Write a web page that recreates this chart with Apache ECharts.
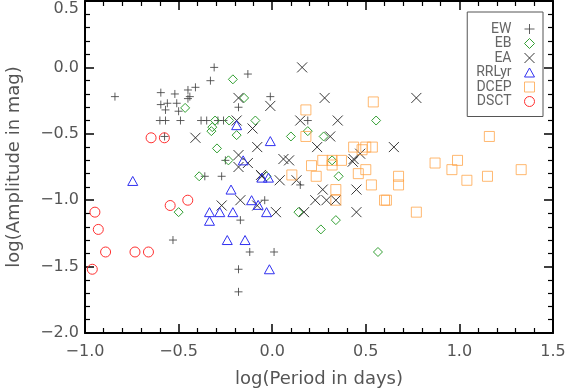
<!DOCTYPE html>
<html><head><meta charset="utf-8">
<script src="https://cdn.jsdelivr.net/npm/echarts@6/dist/echarts.min.js"></script>
<style>html,body{margin:0;padding:0;background:#fff}#c{width:566px;height:390px}</style>
</head><body><div id="c"></div>
<script>
var xTicks = [-1.0, -0.5, 0.0, 0.5, 1.0, 1.5];
var yTicks = [-2.0, -1.5, -1.0, -0.5, 0.0, 0.5];
var seriesNames = ['EW', 'EB', 'EA', 'RRLyr', 'DCEP', 'DSCT'];

var EW = [[-0.84,-0.22],[-0.595,-0.19],[-0.52,-0.20],[-0.45,-0.17],[-0.41,-0.15],[-0.31,0.00],[-0.33,-0.10],
  [-0.595,-0.28],[-0.56,-0.27],[-0.57,-0.32],[-0.51,-0.27],[-0.50,-0.33],[-0.45,-0.235],[-0.44,-0.22],
  [-0.60,-0.40],[-0.57,-0.40],[-0.49,-0.40],[-0.38,-0.40],[-0.35,-0.40],[-0.29,-0.40],[-0.26,-0.40],
  [-0.575,-0.52],[-0.27,-0.82],[-0.36,-0.82],[-0.25,-0.70],[-0.53,-1.30],[-0.18,-1.52],[-0.18,-1.69],
  [-0.12,-1.39],[0.01,-1.39],[-0.17,-1.15],[-0.04,-1.00],[0.15,-0.885],[-0.13,-0.05],[-0.01,-0.22],
  [-0.18,-0.30],[0.19,-0.40]];
var EB = [[-0.465,-0.305],[-0.21,-0.09],[-0.305,-0.40],[-0.23,-0.40],[-0.32,-0.45],[-0.325,-0.48],[-0.19,-0.51],
  [-0.295,-0.61],[-0.234,-0.70],[-0.39,-0.82],[-0.50,-1.09],[-0.15,-0.23],[-0.09,-0.40],[0.10,-0.52],
  [0.19,-0.48],[0.275,-0.52],[0.555,-0.40],[0.32,-0.70],[0.355,-0.82],[-0.03,-0.82],[0.14,-1.09],
  [0.26,-1.22],[0.34,-1.15],[0.565,-1.39]];
var EA = [[-0.41,-0.53],[-0.27,-1.04],[-0.17,-1.00],[-0.08,-1.04],[0.02,-1.09],[0.17,-1.09],[0.23,-1.00],
  [0.29,-1.00],[0.34,-1.00],[0.27,-0.92],[0.45,-0.92],[0.45,-1.09],[0.04,-0.85],[0.13,-0.85],[-0.055,-0.82],
  [-0.18,-0.75],[-0.13,-0.72],[0.43,-0.71],[0.16,0.00],[0.28,-0.23],[-0.01,-0.29],[-0.18,-0.23],[0.15,-0.40],
  [0.35,-0.40],[-0.105,-0.46],[-0.19,-0.40],[0.31,-0.52],[0.24,-0.60],[-0.08,-0.60],[-0.18,-0.66],[0.06,-0.69],
  [0.09,-0.70],[0.435,-0.69],[0.47,-0.65],[0.77,-0.23],[0.65,-0.60],[-0.06,-0.81]];
var RRLyr = [[-0.745,-0.855],[-0.22,-0.92],[-0.335,-1.09],[-0.335,-1.155],[-0.28,-1.09],[-0.21,-1.09],[-0.24,-1.30],
  [-0.11,-1.00],[-0.03,-1.09],[-0.075,-1.035],[-0.145,-1.30],[-0.015,-1.52],[-0.19,-0.435],[-0.01,-0.555],
  [-0.155,-0.70],[-0.055,-0.83],[-0.02,-0.83]];
var DCEP = [[0.18,-0.32],[0.18,-0.52],[0.54,-0.26],[0.435,-0.60],[0.50,-0.60],[0.535,-0.60],[0.27,-0.70],[0.32,-0.70],
  [0.37,-0.70],[0.21,-0.74],[0.32,-0.735],[0.48,-0.62],[0.50,-0.77],[0.46,-0.80],[0.105,-0.81],[0.235,-0.82],
  [0.34,-0.92],[0.34,-1.00],[0.53,-0.885],[0.61,-1.00],[0.60,-1.00],[1.16,-0.52],[0.87,-0.72],[0.99,-0.70],
  [0.96,-0.77],[1.04,-0.85],[1.15,-0.82],[1.33,-0.77],[0.675,-0.82],[0.675,-0.885],[0.77,-1.09]];
var DSCT = [[-0.647,-0.53],[-0.576,-0.53],[-0.947,-1.09],[-0.929,-1.22],[-0.89,-1.39],[-0.733,-1.39],
  [-0.661,-1.39],[-0.961,-1.52],[-0.545,-1.04],[-0.451,-1.00]];

var seriesData = [EW, EB, EA, RRLyr, DCEP, DSCT];
var symbols = [
  'path://M5,0L5,10M0,5L10,5',
  'path://M5,0L10,5L5,10L0,5Z',
  'path://M0,0L10,10M10,0L0,10',
  'path://M5,0L10,9L0,9Z',
  'path://M0,0L10,0L10,10L0,10Z',
  'path://M0,5A5,5,0,1,1,10,5A5,5,0,1,1,0,5Z'
];
var sizes = [8, 9, 10, 10, 10, 10];
var colors = ['#444444', '#33a033', '#222222', '#3030f0', '#ffa040', '#ff3030'];
var opac = [0.85, 1, 0.9, 1, 0.75, 1];

function fmt(v) {
  var s = Math.abs(v).toFixed(1);
  return (v < 0 ? '\u2212' : '') + s;
}
var FONT = 'DejaVu Sans';

var chart = echarts.init(document.getElementById('c'));
var series = seriesNames.map(function (n, i) {
  return {
    name: n, type: 'scatter', data: seriesData[i], symbol: symbols[i], symbolSize: sizes[i],
    symbolKeepAspect: true,
    itemStyle: { color: 'transparent', borderColor: colors[i], borderWidth: 1, opacity: opac[i] },
    emphasis: { disabled: true }, silent: true
  };
});
var tickCommon = { show: true, inside: true, length: 9, lineStyle: { color: '#000', width: 1.5 } };
var minorCommon = { show: true, splitNumber: 5, length: 5, lineStyle: { color: '#000', width: 1.2 } };
var lineCommon = { show: true, onZero: false, lineStyle: { color: '#000', width: 2 } };
chart.setOption({
  animation: false,
  backgroundColor: '#fff',
  grid: { left: 85, right: 13, top: 1, bottom: 57, containLabel: false, outerBoundsMode: 'none' },
  legend: {
    data: seriesNames, orient: 'vertical', align: 'right', right: 23, top: 12,
    itemWidth: 10, itemHeight: 10, itemGap: 0.5, padding: [10, 8, 8, 9],
    borderColor: '#555', borderWidth: 1, backgroundColor: '#fff',
    textStyle: { fontFamily: 'Roboto', fontSize: 14, lineHeight: 14, color: '#666', padding: [0, 8, 0, 0] },
    itemStyle: { borderWidth: 1 }, selectedMode: false
  },
  xAxis: [{
    type: 'value', min: xTicks[0], max: xTicks[xTicks.length - 1], interval: 0.5,
    name: 'log(Period in days)', nameLocation: 'middle', nameGap: 37,
    nameTextStyle: { fontFamily: FONT, fontSize: 18, color: '#555' },
    axisLine: lineCommon, axisTick: tickCommon, minorTick: minorCommon, splitLine: { show: false },
    axisLabel: { formatter: fmt, margin: 11, fontFamily: FONT, fontSize: 16, color: '#555' }
  }, {
    type: 'value', position: 'top', min: xTicks[0], max: xTicks[xTicks.length - 1], interval: 0.5,
    axisLine: lineCommon, axisTick: tickCommon, minorTick: minorCommon, splitLine: { show: false },
    axisLabel: { show: false }
  }],
  yAxis: [{
    type: 'value', min: yTicks[0], max: yTicks[yTicks.length - 1], interval: 0.5,
    name: 'log(Amplitude in mag)', nameLocation: 'middle', nameGap: 62,
    nameTextStyle: { fontFamily: FONT, fontSize: 18, color: '#555' },
    axisLine: lineCommon, axisTick: tickCommon, minorTick: minorCommon, splitLine: { show: false },
    axisLabel: {
      formatter: function (v) { return v === 0.5 ? '\n' + fmt(v) : fmt(v); },
      margin: 6, fontFamily: FONT, fontSize: 16, color: '#555', lineHeight: 16
    }
  }, {
    type: 'value', position: 'right', min: yTicks[0], max: yTicks[yTicks.length - 1], interval: 0.5,
    axisLine: lineCommon, axisTick: tickCommon, minorTick: minorCommon, splitLine: { show: false },
    axisLabel: { show: false }
  }],
  series: series
});
</script></body></html>
